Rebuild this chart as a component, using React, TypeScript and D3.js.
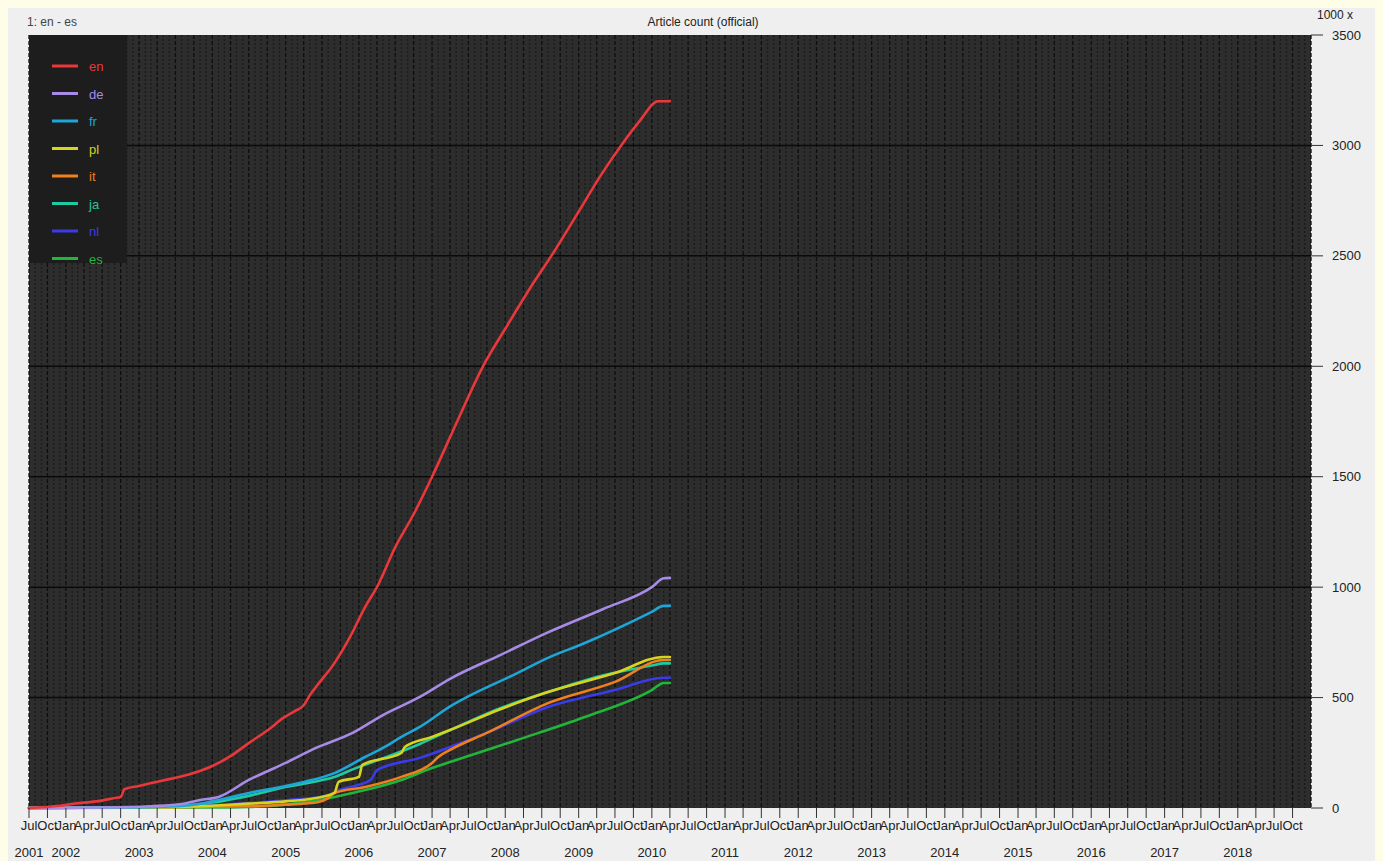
import React from "react";
import * as d3 from "d3";

// ---------- data (thousands of articles) ----------
const languages = ["en", "de", "fr", "pl", "it", "ja", "nl", "es"];
const colors = ["#e8383b", "#a88be6", "#1ea6d8", "#d8d31c", "#f07f1e", "#1ecaa0", "#3b3bea", "#1fb63a"];

const enSeries: [string, number][] = [
  ["2001-07-01", 0], ["2001-12-01", 10], ["2002-02-15", 20], ["2002-06-01", 30], ["2002-09-01", 45],
  ["2002-10-01", 50], ["2002-10-20", 85], ["2003-01-01", 100], ["2003-05-01", 125], ["2003-09-01", 150],
  ["2004-01-01", 190], ["2004-04-01", 235], ["2004-07-01", 294], ["2004-10-15", 360], ["2004-12-18", 407],
  ["2005-02-18", 440], ["2005-04-01", 465], ["2005-05-01", 510], ["2005-06-01", 548], ["2005-09-01", 656],
  ["2005-11-18", 775], ["2006-02-01", 910], ["2006-04-01", 1000], ["2006-07-01", 1180], ["2006-10-01", 1330],
  ["2007-01-01", 1500], ["2007-05-01", 1740], ["2007-09-12", 2000], ["2008-01-01", 2170], ["2008-05-01", 2350],
  ["2008-09-01", 2520], ["2009-01-01", 2700], ["2009-04-18", 2860], ["2009-08-01", 3000], ["2009-11-01", 3110],
  ["2010-02-01", 3200], ["2010-04-01", 3200],
];
const deSeries: [string, number][] = [
  ["2001-07-01", 0], ["2002-07-01", 2], ["2003-03-01", 8], ["2003-08-01", 18], ["2003-11-01", 36],
  ["2004-02-01", 50], ["2004-07-01", 127], ["2005-01-01", 204], ["2005-06-01", 272], ["2005-12-01", 340],
  ["2006-05-01", 421], ["2006-11-01", 503], ["2007-04-01", 585], ["2007-12-01", 690], ["2008-08-01", 795],
  ["2009-05-01", 900], ["2010-01-01", 1000], ["2010-03-01", 1040], ["2010-04-01", 1042],
];
const frSeries: [string, number][] = [
  ["2001-07-01", 0], ["2003-01-01", 3], ["2003-09-01", 12], ["2004-01-01", 30], ["2004-07-01", 68],
  ["2005-01-01", 100], ["2005-04-01", 118], ["2005-09-01", 158], ["2006-02-01", 231], ["2006-05-01", 272],
  ["2006-08-01", 322], ["2006-11-01", 367], ["2007-04-01", 460], ["2008-03-01", 611], ["2008-08-01", 680],
  ["2009-02-01", 747], ["2010-01-01", 888], ["2010-03-01", 915], ["2010-04-01", 915],
];
const plSeries: [string, number][] = [
  ["2001-07-01", 0], ["2003-03-01", 2], ["2003-11-01", 8], ["2004-07-01", 20], ["2005-01-01", 30],
  ["2005-06-01", 45], ["2005-09-01", 68], ["2005-09-22", 118], ["2006-01-01", 141], ["2006-01-18", 195],
  ["2006-08-01", 249], ["2006-08-18", 276], ["2007-01-01", 322], ["2007-04-01", 353], ["2007-12-01", 445],
  ["2008-08-01", 525], ["2009-07-01", 611], ["2010-03-01", 684], ["2010-04-01", 684],
];
const itSeries: [string, number][] = [
  ["2001-07-01", 0], ["2003-11-01", 5], ["2005-01-01", 15], ["2005-06-01", 25], ["2005-08-01", 45],
  ["2005-09-01", 68], ["2006-02-01", 95], ["2006-08-01", 141], ["2007-01-01", 204], ["2007-02-01", 231],
  ["2007-04-01", 263], ["2007-10-01", 340], ["2008-08-01", 475], ["2009-07-01", 571], ["2010-03-01", 670],
  ["2010-04-01", 670],
];
const jaSeries: [string, number][] = [
  ["2001-07-01", 0], ["2003-01-01", 3], ["2003-09-01", 12], ["2004-01-01", 25], ["2004-07-01", 55],
  ["2005-01-01", 95], ["2005-06-01", 120], ["2005-09-01", 140], ["2005-12-01", 175], ["2006-05-01", 225],
  ["2006-11-01", 290], ["2007-04-01", 353], ["2007-12-01", 450], ["2008-08-01", 525], ["2009-05-01", 600],
  ["2010-01-01", 645], ["2010-03-01", 655], ["2010-04-01", 655],
];
const nlSeries: [string, number][] = [
  ["2001-07-01", 0], ["2003-03-01", 3], ["2003-11-01", 10], ["2004-07-01", 22], ["2005-01-01", 35],
  ["2005-08-01", 55], ["2005-09-01", 72], ["2006-03-01", 127], ["2006-04-01", 172], ["2006-11-01", 227],
  ["2007-04-01", 276], ["2007-10-01", 340], ["2008-08-01", 457], ["2009-07-01", 534], ["2010-03-01", 590],
  ["2010-04-01", 590],
];
const esSeries: [string, number][] = [
  ["2001-07-01", 0], ["2004-01-01", 2], ["2004-07-01", 5], ["2005-03-01", 22], ["2005-09-01", 50],
  ["2006-02-01", 81], ["2006-08-01", 127], ["2007-01-01", 181], ["2007-04-01", 208], ["2008-03-01", 308],
  ["2009-02-01", 412], ["2010-01-01", 534], ["2010-03-01", 566], ["2010-04-01", 566],
];

const yTicks = [0, 500, 1000, 1500, 2000, 2500, 3000, 3500];
const monthNames = ["Jan", "Apr", "Jul", "Oct"];
const yearTicks = [2001, 2002, 2003, 2004, 2005, 2006, 2007, 2008, 2009, 2010, 2011, 2012, 2013, 2014, 2015, 2016, 2017, 2018];

// drawing order: en on top? keep legend order but draw lower first
const allSeries = [enSeries, deSeries, frSeries, plSeries, itSeries, jaSeries, nlSeries, esSeries];

const W = 1383;
const H = 861;
const left = 29, right = 1311, top = 35, bottom = 808;

export default function App() {
  const parse = d3.timeParse("%Y-%m-%d");
  const x = d3.scaleTime().domain([new Date(2001, 6, 1), new Date(2019, 0, 1)]).range([left, right]);
  const y = d3.scaleLinear().domain([0, 3500]).range([bottom, top]);
  const line = d3.line<[string, number]>()
    .x((d) => x(parse(d[0]) as Date))
    .y((d) => y(d[1]))
    .curve(d3.curveMonotoneX);

  const months = d3.timeMonth.range(new Date(2001, 6, 1), new Date(2019, 0, 2));
  const quarters = d3.timeMonth.every(3)!.range(new Date(2001, 6, 1), new Date(2018, 9, 2));

  const font = "'Liberation Sans', Arial, Helvetica, sans-serif";

  return (
    <svg width={W} height={H} style={{ position: "absolute", left: 0, top: 0, display: "block" }} fontFamily={font}>
      <rect x={0} y={0} width={W} height={H} fill="#fdfde8" />
      <rect x={8} y={8} width={W - 16} height={H - 8} fill="#efefef" />
      <text x={27} y={26} fontSize={12} fill="#444">1: en - es</text>
      <text x={703} y={26} fontSize={12} fill="#222" textAnchor="middle">Article count (official)</text>
      <text x={1317} y={19} fontSize={12} fill="#222">1000 x</text>

      {/* plot background */}
      <rect x={left} y={top} width={right - left} height={bottom - top} fill="#2d2d2d" />
      {months.map((m, i) => (
        <line key={"m" + i} x1={x(m)} x2={x(m)} y1={top} y2={bottom}
          stroke={m.getMonth() % 3 === 0 ? "#0e0e0e" : "#1b1b1b"} strokeWidth={1.3}
          strokeDasharray={m.getMonth() % 3 === 0 ? "4 2" : "2 2"} />
      ))}
      {yTicks.slice(1, -1).map((t) => (
        <line key={"h" + t} x1={left} x2={right} y1={y(t)} y2={y(t)} stroke="#0a0a0a" strokeWidth={1.5} />
      ))}

      {/* legend box */}
      <rect x={left} y={top} width={98} height={228} fill="#1d1d1d" />

      {/* series lines (reverse so en on top) */}
      {allSeries.map((s, i) => ({ s, i })).reverse().map(({ s, i }) => (
        <path key={"s" + i} d={line(s) || ""} fill="none" stroke={colors[i]} strokeWidth={2.6}
          strokeLinejoin="round" strokeLinecap="round" />
      ))}

      {/* legend */}
      {languages.map((l, i) => {
        const ly = 66 + i * 27.5;
        return (
          <g key={"lg" + l}>
            <line x1={52} x2={78} y1={ly} y2={ly} stroke={colors[i]} strokeWidth={3} />
            <text x={89} y={ly + 5} fontSize={13} fill={colors[i]}>{l}</text>
          </g>
        );
      })}

      {/* right axis */}
      {yTicks.map((t) => (
        <g key={"yt" + t}>
          <line x1={right} x2={right + 12} y1={y(t)} y2={y(t)} stroke="#333" strokeWidth={1} />
          <text x={1332} y={y(t) + 4.5} fontSize={13} fill="#222">{t}</text>
        </g>
      ))}

      {/* bottom axis */}
      {quarters.map((q, i) => (
        <g key={"q" + i}>
          <line x1={x(q)} x2={x(q)} y1={bottom} y2={bottom + 10} stroke="#333" strokeWidth={1} />
          <text x={x(q)} y={830} fontSize={13} fill="#222" textAnchor="middle">
            {monthNames[Math.floor(q.getMonth() / 3)]}
          </text>
        </g>
      ))}
      {yearTicks.map((yr) => {
        const d = yr === 2001 ? new Date(2001, 6, 1) : new Date(yr, 0, 1);
        return (
          <text key={"yr" + yr} x={x(d)} y={857} fontSize={13} fill="#222" textAnchor="middle">{yr}</text>
        );
      })}
    </svg>
  );
}
